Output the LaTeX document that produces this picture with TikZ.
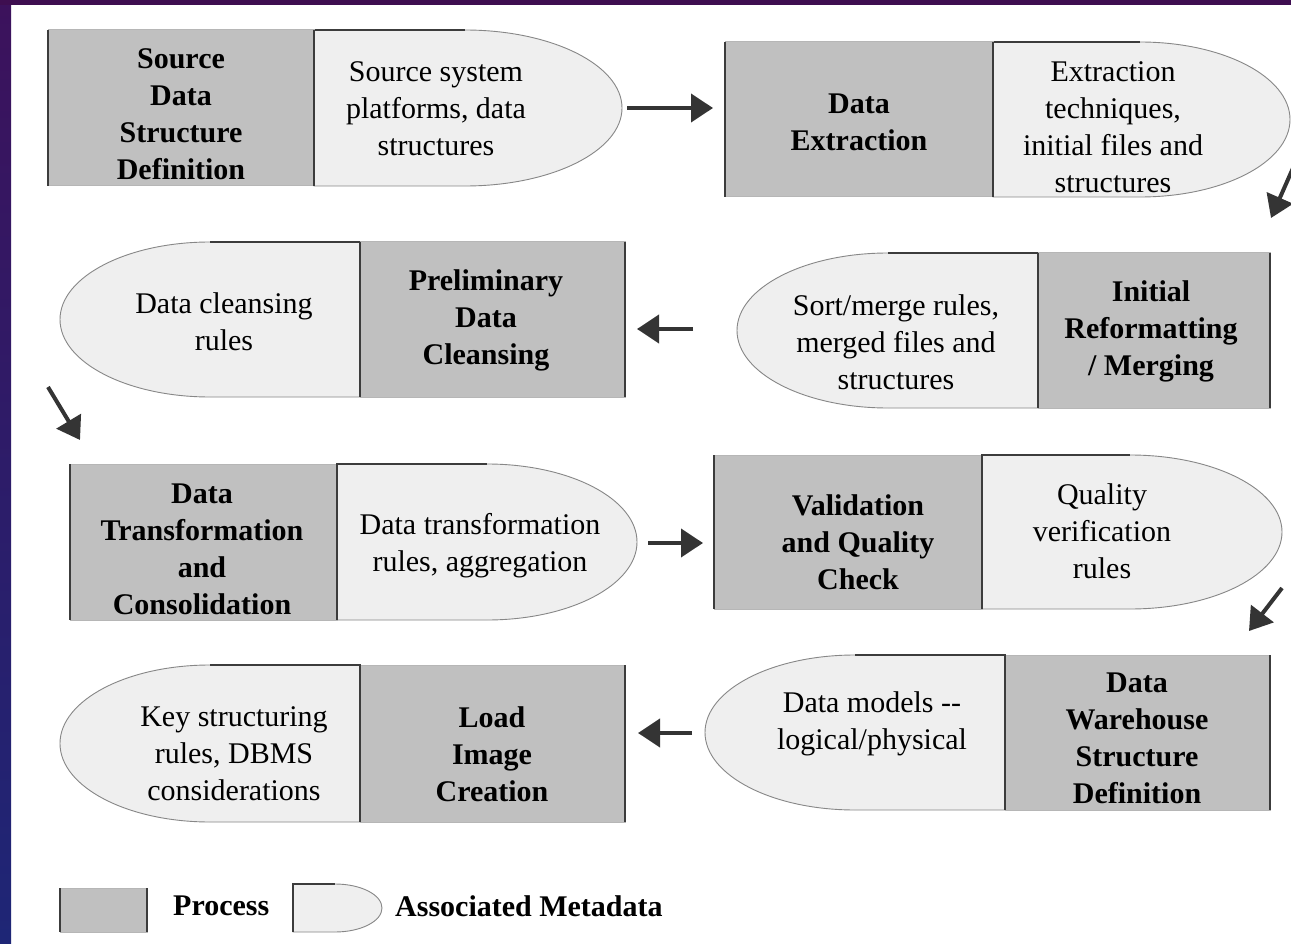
\documentclass[tikz,border=0pt]{standalone}
\usepackage[RGB]{xcolor}
\usepackage{fontspec}
\setmainfont{Liberation Serif}
\usepackage{tikz}
\usetikzlibrary{arrows.meta}
\definecolor{procgray}{RGB}{192,192,192}
\definecolor{procline}{RGB}{182,182,182}
\definecolor{metagray}{RGB}{239,239,239}
\definecolor{curvegray}{RGB}{135,135,135}
\definecolor{edgedark}{RGB}{60,60,60}
\definecolor{arrowdark}{RGB}{52,52,52}
\definecolor{bandtop}{RGB}{62,14,80}
\definecolor{stripup}{RGB}{60,18,92}
\definecolor{stripdown}{RGB}{30,38,118}
\tikzset{
  procfill/.style={fill=procgray, draw=procline, line width=1pt},
  metafill/.style={fill=metagray, draw=curvegray, line width=.9pt},
  darkedge/.style={draw=edgedark, line width=2pt},
  flow/.style={draw=arrowdark, line width=4pt, -{Triangle[length=22pt,width=28pt]}},
  proc/.style={align=center, inner sep=0pt, font=\fontsize{30}{37}\selectfont\bfseries},
  meta/.style={align=center, inner sep=0pt, font=\fontsize{30}{37}\selectfont}
}
\newcommand{\processbox}[4]{
  \filldraw[procfill] (#1,#2) rectangle (#3,#4);
  \draw[darkedge] (#1,#2)--(#1,#4) (#3,#2)--(#3,#4);
}
\newcommand{\metashape}[5]{
  \filldraw[metafill] (#1,#3)--(#2,#3) .. controls ({#2+.552*(#5)},#3) and ({#2+(#5)},{#3+.224*(#4-#3)}) .. ({#2+(#5)},{(#3+#4)/2}) .. controls ({#2+(#5)},{#4-.224*(#4-#3)}) and ({#2+.552*(#5)},#4) .. (#2,#4)--(#1,#4)--cycle;
  \draw[darkedge] (#2,#3)--(#1,#3)--(#1,#4);
}
\begin{document}
\begin{tikzpicture}[x=1pt,y=-1pt]
\useasboundingbox (0,0) rectangle (1291,944);
\fill[white] (0,0) rectangle (1291,944);
\shade[top color=stripup, bottom color=stripdown] (0,0) rectangle (11,944);
\fill[bandtop] (0,0) rectangle (1291,5);
\metashape{314}{465}{30}{186}{157}\processbox{48}{30}{314}{186}
\metashape{993}{1140}{42}{197}{150}\processbox{725}{42}{993}{197}
\metashape{360}{210}{242}{397}{-150}\processbox{360}{242}{625}{397}
\metashape{1038}{888}{253}{408}{-151}\processbox{1038}{253}{1270}{408}
\metashape{337}{487}{464}{620}{150}\processbox{70}{464}{337}{620}
\metashape{982}{1130}{455}{609}{152}\processbox{714}{455}{982}{609}
\metashape{1005}{855}{655}{810}{-150}\processbox{1005}{655}{1270}{810}
\metashape{360}{210}{665}{822}{-150}\processbox{360}{665}{625}{822}
\processbox{60}{888}{147}{932}\metashape{293}{335}{884}{932}{47}
\node[proc] (srcdef) at (181,114) {Source\\Data\\Structure\\Definition};
\node[meta] (srcmeta) at (436,109) {Source system\\platforms, data\\structures};
\node[proc] (extract) at (859,122) {Data\\Extraction};
\node[meta] (extmeta) at (1113,127) {Extraction\\techniques,\\initial files and\\structures};
\node[proc] (cleanse) at (486,320) {Preliminary\\Data\\Cleansing};
\node[meta] (clnmeta) at (224,322) {Data cleansing\\rules};
\node[proc] (reform) at (1151,331) {Initial\\Reformatting\\/ Merging};
\node[meta] (refmeta) at (896,342) {Sort/merge rules,\\merged files and\\structures};
\node[proc] (transf) at (202,549) {Data\\Transformation\\and\\Consolidation};
\node[meta] (trfmeta) at (480,546) {Data transformation\\rules, aggregation};
\node[proc] (valid) at (858,542) {Validation\\and Quality\\Check};
\node[meta] (valmeta) at (1102,531) {Quality\\verification\\rules};
\node[proc] (dwdef) at (1137,738) {Data\\Warehouse\\Structure\\Definition};
\node[meta] (dwmeta) at (872,724) {Data models -{}-\\logical/physical};
\node[proc] (loadimg) at (492,754) {Load\\Image\\Creation};
\node[meta] (ldmeta) at (234,754) {Key structuring\\rules, DBMS\\considerations};
\node[proc, anchor=west] (lgproc) at (173,906) {Process};
\node[proc, anchor=west] (lgmeta) at (395,906) {Associated Metadata};
\coordinate (a1s) at (627,108); \coordinate (a1e) at (713,108);
\coordinate (a2s) at (1297,159); \coordinate (a2e) at (1271,218);
\coordinate (a3s) at (693,329); \coordinate (a3e) at (637,329);
\coordinate (a4s) at (48,387); \coordinate (a4e) at (80,440);
\coordinate (a5s) at (648,543); \coordinate (a5e) at (703,543);
\coordinate (a6s) at (1282,588); \coordinate (a6e) at (1249,631);
\coordinate (a7s) at (692,733); \coordinate (a7e) at (638,733);
\foreach \i in {1,...,7}{\draw[flow] (a\i s)--(a\i e);}
\end{tikzpicture}
\end{document}
